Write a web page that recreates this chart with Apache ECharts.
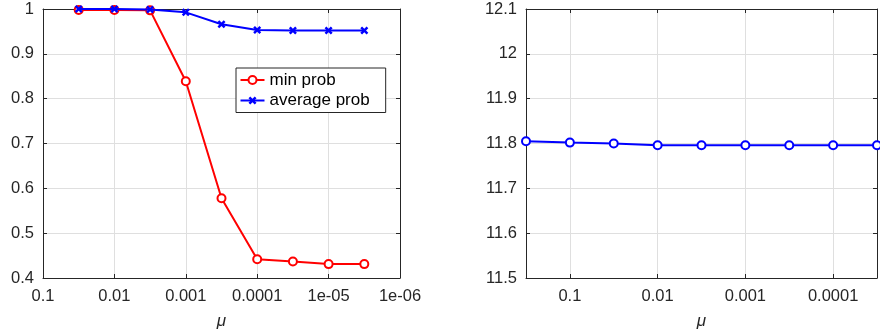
<!DOCTYPE html>
<html>
<head>
<meta charset="utf-8">
<script src="https://cdn.jsdelivr.net/npm/echarts@6/dist/echarts.min.js"></script>
<style>
  html, body { margin: 0; padding: 0; background: #fff; }
  #chart { width: 880px; height: 335px; }
</style>
</head>
<body>
<div id="chart"></div>
<script>
  // left panel: probabilities vs mu
  const muLeft = [3.162e-2, 1e-2, 3.162e-3, 1e-3, 3.162e-4, 1e-4, 3.162e-5, 1e-5, 3.162e-6];
  const minProb = [0.998, 0.998, 0.997, 0.839, 0.578, 0.442, 0.437, 0.431, 0.431];
  const avgProb = [1.0, 1.0, 0.999, 0.9925, 0.966, 0.953, 0.952, 0.952, 0.952];
  // right panel
  const muRight = [3.162e-1, 1e-1, 3.162e-2, 1e-2, 3.162e-3, 1e-3, 3.162e-4, 1e-4, 3.162e-5];
  const objective = [11.805, 11.802, 11.800, 11.796, 11.796, 11.796, 11.796, 11.796, 11.796];

  const tickLabels = { '-1': '0.1', '-2': '0.01', '-3': '0.001', '-4': '0.0001', '-5': '1e-05', '-6': '1e-06' };
  const legendNames = ['min prob', 'average prob'];

  const FONT = 'Liberation Sans';
  const AX = '#262626';
  const GRIDC = '#dfdfdf';

  function logLabel(v) {
    const e = Math.log10(v);
    const r = Math.round(e);
    if (Math.abs(e - r) > 1e-6) return '';
    return tickLabels[String(r)] || '';
  }

  function pairs(xs, ys) {
    return xs.map((x, i) => [x, ys[i]]);
  }

  function xBottom(grid, min, max) {
    return {
      type: 'log', logBase: 10, gridIndex: grid, inverse: true, min: min, max: max,
      position: 'bottom',
      name: 'μ', nameLocation: 'middle', nameGap: 35,
      nameTextStyle: { fontFamily: FONT, fontSize: 17, fontStyle: 'italic', color: AX },
      axisLine: { lineStyle: { color: AX, width: 1 } },
      axisTick: { inside: true, length: 4, lineStyle: { color: AX } },
      axisLabel: { formatter: logLabel, fontFamily: FONT, fontSize: 16.5, color: AX, margin: 10 },
      splitLine: { show: true, lineStyle: { color: GRIDC, width: 1 } },
      minorTick: { show: false }
    };
  }
  function xTop(grid, min, max) {
    return {
      type: 'log', logBase: 10, gridIndex: grid, inverse: true, min: min, max: max,
      position: 'top',
      axisLine: { lineStyle: { color: AX, width: 1 } },
      axisTick: { inside: true, length: 4, lineStyle: { color: AX } },
      axisLabel: { show: false },
      splitLine: { show: false }
    };
  }
  function yLeft(grid, min, max) {
    return {
      type: 'value', gridIndex: grid, min: min, max: max, interval: 0.1, position: 'left',
      axisLine: { show: true, lineStyle: { color: AX, width: 1 } },
      axisTick: { show: true, inside: true, length: 4, lineStyle: { color: AX } },
      axisLabel: { fontFamily: FONT, fontSize: 16.5, color: AX, margin: 9 },
      splitLine: { show: true, lineStyle: { color: GRIDC, width: 1 } }
    };
  }
  function yRight(grid, min, max) {
    return {
      type: 'value', gridIndex: grid, min: min, max: max, interval: 0.1, position: 'right',
      axisLine: { show: true, lineStyle: { color: AX, width: 1 } },
      axisTick: { show: true, inside: true, length: 4, lineStyle: { color: AX } },
      axisLabel: { show: false },
      splitLine: { show: false }
    };
  }

  // bold "x" marker
  const xMark = 'path://M0,2.2L2.2,0L5,2.8L7.8,0L10,2.2L7.2,5L10,7.8L7.8,10L5,7.2L2.2,10L0,7.8L2.8,5Z';

  const chart = echarts.init(document.getElementById('chart'));
  chart.setOption({
    animation: false,
    textStyle: { fontFamily: FONT },
    grid: [
      { left: 43, top: 9, width: 357, height: 270 },
      { left: 526, top: 9, width: 356, height: 270 }
    ],
    legend: {
      data: legendNames,
      orient: 'vertical',
      left: 236, top: 68,
      padding: [3.5, 16, 3.5, 3.5],
      itemGap: 3.5,
      itemWidth: 24, itemHeight: 10,
      backgroundColor: '#fff',
      borderColor: AX, borderWidth: 1, borderRadius: 0,
      textStyle: { fontFamily: FONT, fontSize: 17, color: '#000' }
    },
    xAxis: [
      xBottom(0, 1e-6, 0.1), xTop(0, 1e-6, 0.1),
      xBottom(1, 3.162e-5, 3.162e-1), xTop(1, 3.162e-5, 3.162e-1)
    ],
    yAxis: [
      yLeft(0, 0.4, 1), yRight(0, 0.4, 1),
      yLeft(1, 11.5, 12.1), yRight(1, 11.5, 12.1)
    ],
    series: [
      {
        name: 'min prob', type: 'line', xAxisIndex: 0, yAxisIndex: 0,
        data: pairs(muLeft, minProb),
        symbol: 'emptyCircle', symbolSize: 8,
        lineStyle: { color: '#ff0000', width: 2 },
        itemStyle: { color: '#ff0000', borderColor: '#ff0000', borderWidth: 2 },
        z: 3
      },
      {
        name: 'average prob', type: 'line', xAxisIndex: 0, yAxisIndex: 0,
        data: pairs(muLeft, avgProb),
        symbol: xMark, symbolSize: 8,
        lineStyle: { color: '#0000ff', width: 2 },
        itemStyle: { color: '#0000ff' },
        z: 4
      },
      {
        name: 'objective', type: 'line', xAxisIndex: 2, yAxisIndex: 2,
        data: pairs(muRight, objective),
        symbol: 'emptyCircle', symbolSize: 8,
        lineStyle: { color: '#0000ff', width: 2 },
        itemStyle: { color: '#0000ff', borderColor: '#0000ff', borderWidth: 2 }
      }
    ]
  });
</script>
</body>
</html>
